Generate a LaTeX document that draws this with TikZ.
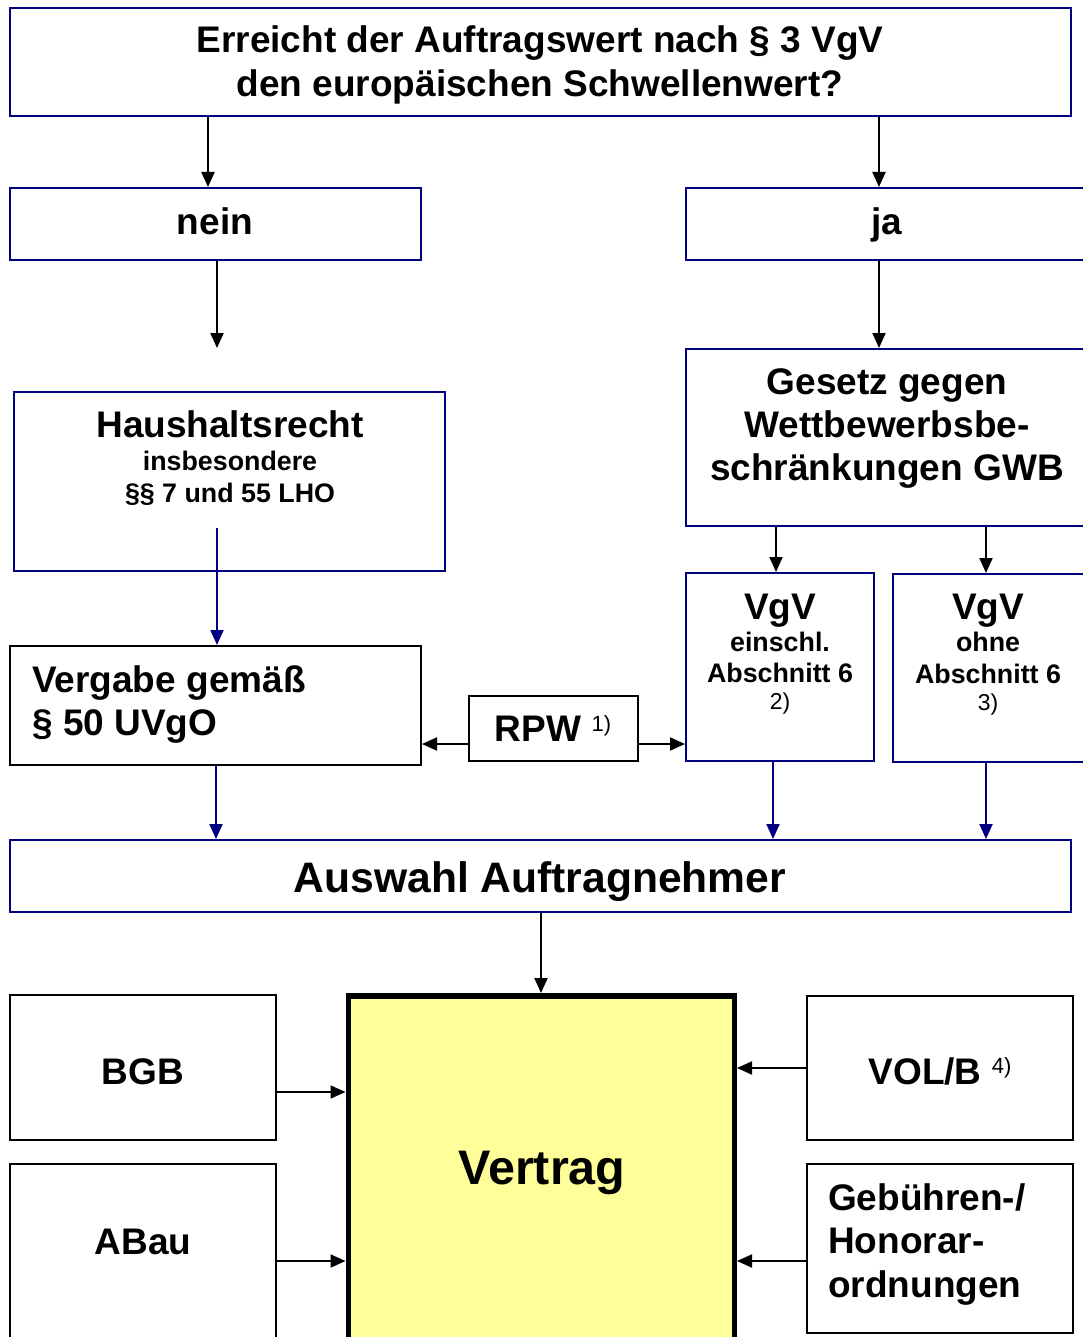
\documentclass[tikz,border=0pt]{standalone}
\usepackage{fontspec}
\setmainfont{Liberation Sans}
\usetikzlibrary{arrows.meta}
\definecolor{navy}{HTML}{000080}
\definecolor{paleyellow}{HTML}{FFFF99}
\begin{document}
\begin{tikzpicture}[x=1pt,y=-1pt,
  nbox/.style={draw=navy, line width=2pt, rectangle, inner sep=0pt, anchor=north west},
  kbox/.style={draw=black, line width=2pt, rectangle, inner sep=0pt, anchor=north west},
  txt/.style={anchor=base, inner sep=0pt, font=\fontsize{37}{37}\selectfont\bfseries},
  txtl/.style={txt, anchor=base west},
  small/.style={anchor=base, inner sep=0pt, font=\fontsize{26.8}{26.8}\selectfont\bfseries},
  tiny/.style={anchor=base, inner sep=0pt, font=\fontsize{23}{23}\selectfont},
  arr/.style={-{Triangle[length=15pt,width=13pt]}, line width=2pt, draw=black},
  narr/.style={-{Triangle[length=15pt,width=13pt]}, line width=2pt, draw=navy, fill=navy}]
\useasboundingbox (0,0) rectangle (1082,1337);
\fill[white] (0,0) rectangle (1082,1337);

% boxes
\node[nbox, minimum width=1061pt, minimum height=108pt] (top) at (9,7) {};
\node[nbox, minimum width=411pt, minimum height=72pt] (nein) at (9,187) {};
\node[nbox, minimum width=404pt, minimum height=72pt] (ja) at (685,187) {};
\node[nbox, minimum width=431pt, minimum height=179pt] (hh) at (13,391) {};
\node[nbox, minimum width=404pt, minimum height=177pt] (gwb) at (685,348) {};
\node[nbox, minimum width=188pt, minimum height=188pt] (vgv1) at (685,572) {};
\node[nbox, minimum width=197pt, minimum height=188pt] (vgv2) at (892,573) {};
\node[kbox, minimum width=411pt, minimum height=119pt] (verg) at (9,645) {};
\node[kbox, minimum width=169pt, minimum height=65pt] (rpw) at (468,695) {};
\node[nbox, minimum width=1061pt, minimum height=72pt] (ausw) at (9,839) {};
\node[kbox, line width=5.5pt, fill=paleyellow, minimum width=386pt, minimum height=380pt] (vert) at (345.5,993) {};
\node[kbox, minimum width=266pt, minimum height=145pt] (bgb) at (9,994) {};
\node[kbox, minimum width=266pt, minimum height=200pt] (abau) at (9,1163) {};
\node[kbox, minimum width=266pt, minimum height=144pt] (volb) at (806,995) {};
\node[kbox, minimum width=266pt, minimum height=169pt] (geb) at (806,1163) {};

% texts
\node[txt] (t1) at (540,53) {Erreicht der Auftragswert nach § 3 VgV};
\node[txt] (t2) at (540,97) {den europäischen Schwellenwert?};
\node[txt] (tnein) at (215,235) {nein};
\node[txt] (tja) at (887,235) {ja};
\node[txt] (hh1) at (230,437) {Haushaltsrecht};
\node[small] (hh2) at (230,470) {insbesondere};
\node[small] (hh3) at (230,502) {§§ 7 und 55 LHO};
\node[txt] (g1) at (887,394) {Gesetz gegen};
\node[txt] (g2) at (887,437) {Wettbewerbsbe-};
\node[txt] (g3) at (887,480) {schränkungen GWB};
\node[txt] (v11) at (780,619) {VgV};
\node[small] (v12) at (780,651) {einschl.};
\node[small] (v13) at (780,682) {Abschnitt 6};
\node[tiny] (v14) at (780,709) {2)};
\node[txt] (v21) at (988,619) {VgV};
\node[small] (v22) at (988,651) {ohne};
\node[small] (v23) at (988,683) {Abschnitt 6};
\node[tiny] (v24) at (988,710) {3)};
\node[txtl] (ve1) at (32,692) {Vergabe gemäß};
\node[txtl] (ve2) at (32,735) {§ 50 UVgO};
\node[txt] (trpw) at (553,741) {RPW {\fontsize{22}{22}\selectfont\mdseries\raisebox{10pt}{1)}}};
\node[txt, font=\fontsize{42.6}{42.6}\selectfont\bfseries] (taus) at (540,892) {Auswahl Auftragnehmer};
\node[txt, font=\fontsize{48.5}{48.5}\selectfont\bfseries] (tvert) at (542,1184) {Vertrag};
\node[txt] (tbgb) at (143,1084) {BGB};
\node[txt] (tabau) at (143,1254) {ABau};
\node[txt] (tvolb) at (940,1084) {VOL/B {\fontsize{22}{22}\selectfont\mdseries\raisebox{11pt}{4)}}};
\node[txtl] (ge1) at (828,1210) {Gebühren-/};
\node[txtl] (ge2) at (828,1253) {Honorar-};
\node[txtl] (ge3) at (828,1297) {ordnungen};

% connectors
\coordinate (neinend) at (217,348);
\draw[arr] ([xshift=199pt]top.south west) -- ([xshift=199pt]nein.north west);
\draw[arr] ([xshift=870pt]top.south west) -- ([xshift=194pt]ja.north west);
\draw[arr] ([xshift=208pt]nein.south west) -- (neinend);
\draw[arr] ([xshift=194pt]ja.south west) -- ([xshift=194pt]gwb.north west);
\draw[narr] ([xshift=204pt,yshift=44pt]hh.south west) -- ([xshift=208pt]verg.north west);
\draw[arr] ([xshift=91pt]gwb.south west) -- ([xshift=91pt]vgv1.north west);
\draw[arr] ([xshift=301pt]gwb.south west) -- ([xshift=94pt]vgv2.north west);
\coordinate (rpwl) at ([yshift=18pt]rpw.south west);
\coordinate (rpwr) at ([yshift=18pt]rpw.south east);
\draw[arr] (rpwl) -- (rpwl -| verg.east);
\draw[arr] (rpwr) -- (rpwr -| vgv1.west);
\draw[narr] ([xshift=207pt]verg.south west) -- ([xshift=207pt]ausw.north west);
\draw[narr] ([xshift=88pt]vgv1.south west) -- ([xshift=764pt]ausw.north west);
\draw[narr] ([xshift=94pt]vgv2.south west) -- ([xshift=977pt]ausw.north west);
\draw[arr] ([xshift=532pt]ausw.south west) -- ([xshift=532pt]ausw.south west |- vert.north);
\coordinate (bgbo) at ([yshift=49pt]bgb.south east);
\coordinate (abauo) at ([yshift=-98pt]abau.north east);
\coordinate (volbo) at ([yshift=-73pt]volb.north west);
\coordinate (gebo) at ([yshift=-98pt]geb.north west);
\draw[arr] (bgbo) -- (bgbo -| vert.west);
\draw[arr] (abauo) -- (abauo -| vert.west);
\draw[arr] (volbo) -- (volbo -| vert.east);
\draw[arr] (gebo) -- (gebo -| vert.east);
\end{tikzpicture}
\end{document}
